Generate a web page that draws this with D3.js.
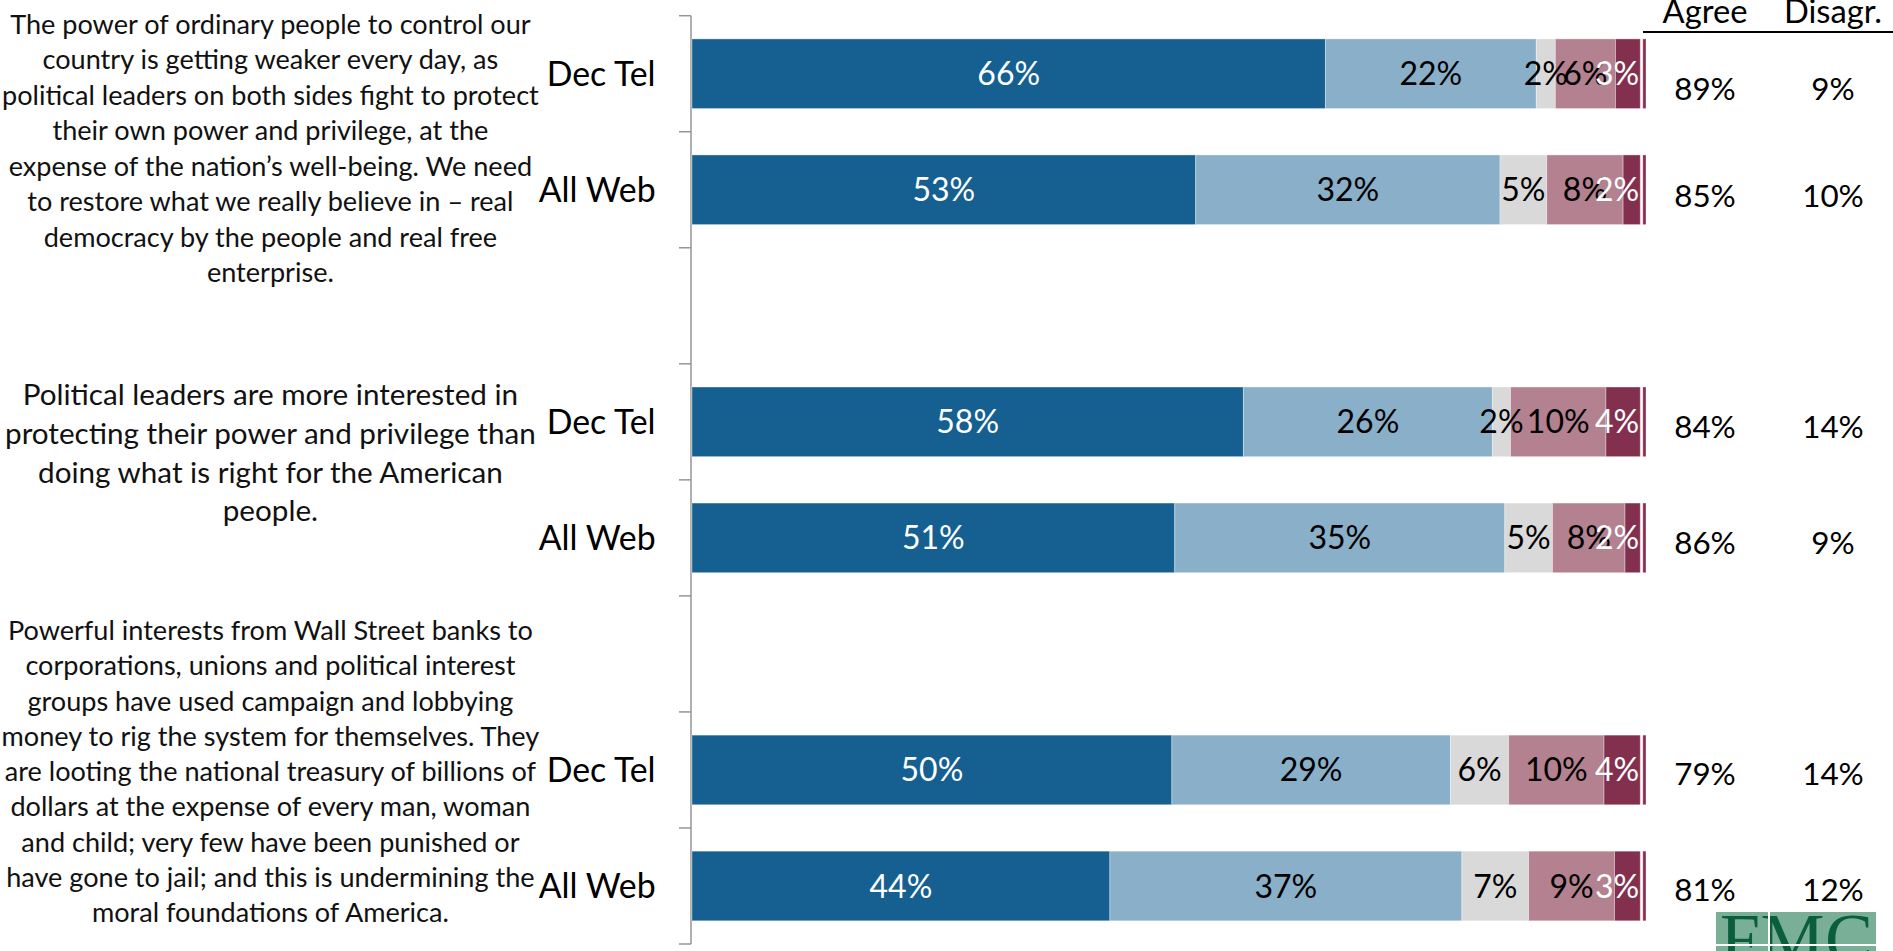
<!DOCTYPE html>
<html>
<head>
<meta charset="utf-8">
<script src="https://cdn.jsdelivr.net/npm/d3@7"></script>
<style>
  html, body { margin: 0; padding: 0; background: #fff; overflow: hidden; }
  svg { display: block; }
</style>
</head>
<body>
<div id="chart"></div>
<script>
(function() {
    'use strict';

    // rows of bars (top to bottom)
    const barRows = ["q1-tel", "q1-web", "q2-tel", "q2-web", "q3-tel", "q3-web"];
    const rowLabels = ["Dec Tel", "All Web", "Dec Tel", "All Web", "Dec Tel", "All Web"];

    // series values, in percent
    const strongAgree      = [66.4, 52.8, 57.8, 50.6, 50.3, 43.8];
    const somewhatAgree    = [22.1, 31.9, 26.1, 34.6, 29.2, 36.9];
    const neither          = [2.0, 4.9, 1.9, 5.0, 6.1, 7.0];
    const somewhatDisagree = [6.3, 8.0, 10.0, 7.6, 10.0, 9.0];
    const strongDisagree   = [2.6, 1.8, 3.6, 1.6, 3.8, 2.7];
    const refused          = [0.6, 0.6, 0.6, 0.6, 0.6, 0.6];

    // totals columns
    const agreeTotals    = [89, 85, 84, 86, 79, 81];
    const disagreeTotals = [9, 10, 14, 9, 14, 12];
    const totalHeaders   = ["Agree", "Disagr."];

    // statements, one list of lines each
    const statement1 = [
        "The power of ordinary people to control our",
        "country is getting weaker every day, as",
        "political leaders on both sides fight to protect",
        "their own power and privilege, at the",
        "expense of the nation\u2019s well-being. We need",
        "to restore what we really believe in \u2013 real",
        "democracy by the people and real free",
        "enterprise."
    ];
    const statement2 = [
        "Political leaders are more interested in",
        "protecting their power and privilege than",
        "doing what is right for the American",
        "people."
    ];
    const statement3 = [
        "Powerful interests from Wall Street banks to",
        "corporations, unions and political interest",
        "groups have used campaign and lobbying",
        "money to rig the system for themselves. They",
        "are looting the national treasury of billions of",
        "dollars at the expense of every man, woman",
        "and child; very few have been punished or",
        "have gone to jail; and this is undermining the",
        "moral foundations of America."
    ];

    // ---- layout ----
    const W = 1893, H = 951;
    const FONT = "Lato, 'Open Sans', sans-serif";

    const svg = d3.select("#chart")
        .append("svg")
        .attr("width", W)
        .attr("height", H);

    // font size that makes sample text a given width
    function fitSize(sample, target) {
        const t = svg.append("text")
            .attr("font-family", FONT)
            .attr("font-size", 100)
            .text(sample);
        const w = t.node().getComputedTextLength();
        t.remove();
        return 100 * target / w;
    }

    const slots = ["q1-tel", "q1-web", "gap1", "q2-tel", "q2-web", "gap2", "q3-tel", "q3-web"];

    const y = d3.scaleBand()
        .domain(slots)
        .range([15.7, 944])
        .paddingInner(0.4)
        .paddingOuter(0.2);

    const x = d3.scaleLinear()
        .domain([0, 100])
        .range([692, 1646]);

    const keys = ["sa", "wa", "ne", "wd", "sd", "rf"];
    const colors = {
        sa: "#156091", wa: "#89afc9", ne: "#d9d9d9",
        wd: "#b3818f", sd: "#83304f", rf: "#83304f"
    };
    const labelColors = { sa: "#fff", wa: "#000", ne: "#000", wd: "#000", sd: "#fff" };

    const records = barRows.map((r, i) => ({
        row: r,
        sa: strongAgree[i],
        wa: somewhatAgree[i],
        ne: neither[i],
        wd: somewhatDisagree[i],
        sd: strongDisagree[i],
        rf: refused[i]
    }));

    const stacked = d3.stack().keys(keys)(records);

    // category axis: line with ticks between the bands
    const axisX = 691;
    const [r0, r1] = y.range();
    svg.append("line")
        .attr("x1", axisX).attr("x2", axisX)
        .attr("y1", r0).attr("y2", r1)
        .attr("stroke", "#969696")
        .attr("stroke-width", 1.5);

    svg.selectAll("line.tick")
        .data(d3.range(slots.length + 1))
        .enter()
        .append("line")
        .attr("class", "tick")
        .attr("x1", axisX - 12).attr("x2", axisX)
        .attr("y1", d => r0 + d * y.step())
        .attr("y2", d => r0 + d * y.step())
        .attr("stroke", "#969696")
        .attr("stroke-width", 1.5);

    // bars
    const layers = svg.selectAll("g.layer")
        .data(stacked)
        .enter()
        .append("g")
        .attr("class", "layer")
        .attr("fill", d => colors[d.key]);

    layers.selectAll("rect")
        .data(d => d.map(p => Object.assign(p, { key: d.key })))
        .enter()
        .append("rect")
        .attr("x", d => x(d[0]) + (d.key === "rf" ? 2.5 : 0))
        .attr("y", d => y(d.data.row))
        .attr("width", d => x(d[1]) - x(d[0]) - (d.key === "rf" ? 2.5 : 0))
        .attr("height", y.bandwidth())
        .attr("stroke", "rgba(255,255,255,0.35)")
        .attr("stroke-width", 1);

    // percent labels inside the bars
    const barFont = fitSize("66%", 62.8);
    stacked.filter(s => s.key !== "rf").forEach(s => {
        s.forEach(d => {
            const endX = x(d[1] + 0) ;
            const barEnd = x(d.data.sa + d.data.wa + d.data.ne + d.data.wd + d.data.sd);
            const t = svg.append("text")
                .attr("font-family", FONT)
                .attr("font-size", barFont)
                .attr("fill", labelColors[s.key])
                .attr("text-anchor", "middle")
                .attr("dy", "0.36em")
                .attr("y", y(d.data.row) + y.bandwidth() / 2)
                .text(d3.format(".0f")(d[1] - d[0]) + "%");
            const tw = t.node().getComputedTextLength();
            let cx = (x(d[0]) + endX) / 2;
            if (cx + tw / 2 > barEnd - 1) cx = barEnd - 1 - tw / 2;
            t.attr("x", cx);
        });
    });

    // row labels
    const rowFont = fitSize("All Web", 117);
    svg.selectAll("text.row")
        .data(barRows)
        .enter()
        .append("text")
        .attr("class", "row")
        .attr("font-family", FONT)
        .attr("font-size", rowFont)
        .attr("text-anchor", "end")
        .attr("x", 655.6)
        .attr("y", d => y(d) + y.bandwidth() / 2)
        .attr("dy", "0.36em")
        .text((d, i) => rowLabels[i]);

    // statements
    const smallFont = fitSize(statement1[2], 537);
    const bigFont = fitSize(statement2[1], 531);
    const blocks = [
        { lines: statement1, top: 24.1, step: 35.5, size: smallFont },
        { lines: statement2, top: 394.8, step: 38.6, size: bigFont },
        { lines: statement3, top: 630.2, step: 35.3, size: smallFont }
    ];
    blocks.forEach(b => {
        svg.append("g")
            .selectAll("text")
            .data(b.lines)
            .enter()
            .append("text")
            .attr("font-family", FONT)
            .attr("font-size", b.size)
            .attr("fill", "#111")
            .attr("text-anchor", "middle")
            .attr("x", 270.4)
            .attr("y", (d, i) => b.top + i * b.step)
            .attr("dy", "0.36em")
            .text(d => d);
    });

    // totals
    const colX = [1705, 1833];
    const headFont = fitSize("Agree", 85);
    svg.selectAll("text.head")
        .data(totalHeaders)
        .enter()
        .append("text")
        .attr("class", "head")
        .attr("font-family", FONT)
        .attr("font-size", headFont)
        .attr("text-anchor", "middle")
        .attr("x", (d, i) => colX[i])
        .attr("y", 23)
        .text(d => d);

    svg.append("line")
        .attr("x1", 1643).attr("x2", W)
        .attr("y1", 32).attr("y2", 32)
        .attr("stroke", "#000")
        .attr("stroke-width", 2);

    const valueNudge = [15, 6, 5, 5, 4, 4];
    const totFont = fitSize("89%", 61.6);
    [agreeTotals, disagreeTotals].forEach((vals, c) => {
        svg.append("g")
            .selectAll("text")
            .data(vals)
            .enter()
            .append("text")
            .attr("font-family", FONT)
            .attr("font-size", totFont)
            .attr("text-anchor", "middle")
            .attr("x", colX[c])
            .attr("y", (d, i) => y(barRows[i]) + y.bandwidth() / 2 + valueNudge[i])
            .attr("dy", "0.36em")
            .text(d => d + "%");
    });

    // logo
    const logo = svg.append("g");
    logo.append("rect")
        .attr("x", 1716).attr("y", 912)
        .attr("width", 160).attr("height", 40)
        .attr("fill", "#79ae97");
    logo.append("text")
        .attr("x", 1720).attr("y", 963)
        .attr("font-family", "'Liberation Serif', 'DejaVu Serif', serif")
        .attr("font-size", 72)
        .attr("fill", "#0b5e3d")
        .attr("textLength", 153)
        .text("FMC");
    logo.append("line")
        .attr("x1", 1769).attr("x2", 1769)
        .attr("y1", 912).attr("y2", 951)
        .attr("stroke", "#fff").attr("stroke-width", 2);
    logo.append("line")
        .attr("x1", 1716).attr("x2", 1876)
        .attr("y1", 945).attr("y2", 945)
        .attr("stroke", "#fff").attr("stroke-width", 2);

})();
</script>
</body>
</html>
